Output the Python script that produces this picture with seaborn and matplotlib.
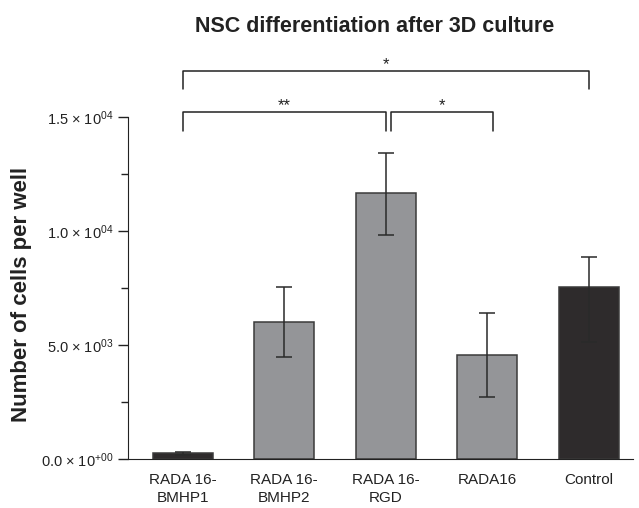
import matplotlib
matplotlib.use("Agg")
import matplotlib.pyplot as plt
import seaborn as sns
import pandas as pd
import numpy as np

categories = ["RADA 16-\nBMHP1", "RADA 16-\nBMHP2", "RADA 16-\nRGD", "RADA16", "Control"]
means = [250, 6020, 11650, 4570, 7530]
err_low = [60, 1550, 1840, 1850, 2400]
err_high = [60, 1540, 1780, 1850, 1320]
bar_colors = ["#2e2b2c", "#949598", "#949598", "#949598", "#2e2b2c"]
ytick_values = [0, 5000, 10000, 15000]
ytick_labels = [r"0.0 × 10$^{+00}$", r"5.0 × 10$^{03}$", r"1.0 × 10$^{04}$", r"1.5 × 10$^{04}$"]
minor_ticks = [2500, 7500, 12500]
# significance brackets: (x_start, x_end, y_line, y_leg, label)
brackets = [(0, 4, 17030, 16230, "*"), (0, 2, 15230, 14400, "**"), (2.05, 3.05, 15230, 14400, "*")]

sns.set_style("ticks")
plt.rcParams["font.family"] = ["Liberation Sans", "DejaVu Sans"]
plt.rcParams["mathtext.fontset"] = "custom"
plt.rcParams["mathtext.rm"] = "Liberation Sans"
plt.rcParams["mathtext.it"] = "Liberation Sans"

fig = plt.figure(figsize=(6.39, 5.08), dpi=100)
ax = fig.add_axes([128/639, 1-459/508, (633-128)/639, (459-60)/508])

df = pd.DataFrame({"cat": categories, "val": means})
sns.barplot(data=df, x="cat", y="val", hue="cat", palette=bar_colors, legend=False,
            width=0.59, edgecolor="#3a3a3a", linewidth=1.1, errorbar=None, saturation=1, ax=ax)
ax.errorbar(np.arange(len(means)), means, yerr=[err_low, err_high], fmt="none",
            ecolor="#2a2a2a", elinewidth=1.1, capsize=5.6, capthick=1.1)

ax.set_xlim(-0.538, 4.433)
ax.set_ylim(0, 17500)
ax.spines["top"].set_visible(False)
ax.spines["right"].set_visible(False)
ax.spines["left"].set_bounds(0, 15000)
ax.spines["left"].set_color("#222222")
ax.spines["bottom"].set_color("#222222")
ax.set_yticks(ytick_values)
ax.set_yticklabels(ytick_labels, fontsize=10.5, color="#222222")
ax.set_yticks(minor_ticks, minor=True)
ax.tick_params(axis="y", which="major", length=7, width=1, color="#222222", direction="out")
ax.tick_params(axis="y", which="minor", length=5, width=1, color="#222222", direction="out")
ax.tick_params(axis="x", length=0, labelsize=11, colors="#222222", pad=10)
for t in ax.get_xticklabels():
    t.set_linespacing(1.4)
ax.set_xlabel("")
ax.set_ylabel("")

for x0, x1, yl, yg, lab in brackets:
    ax.plot([x0, x0, x1, x1], [yg, yl, yl, yg], color="#222222", lw=1.1, clip_on=False)
    ax.text((x0 + x1) / 2, yl - 60, lab, ha="center", va="bottom", fontsize=12, color="#222222")

fig.text(374.7/639, 1-26/508, "NSC differentiation after 3D culture", ha="center", va="center",
         fontsize=15.5, fontweight="bold", color="#222222")
fig.text(22/639, 1-294/508, "Number of cells per well", ha="center", va="center", rotation=90,
         fontsize=16, fontweight="bold", color="#222222")

fig.savefig("out.png", dpi=100)
